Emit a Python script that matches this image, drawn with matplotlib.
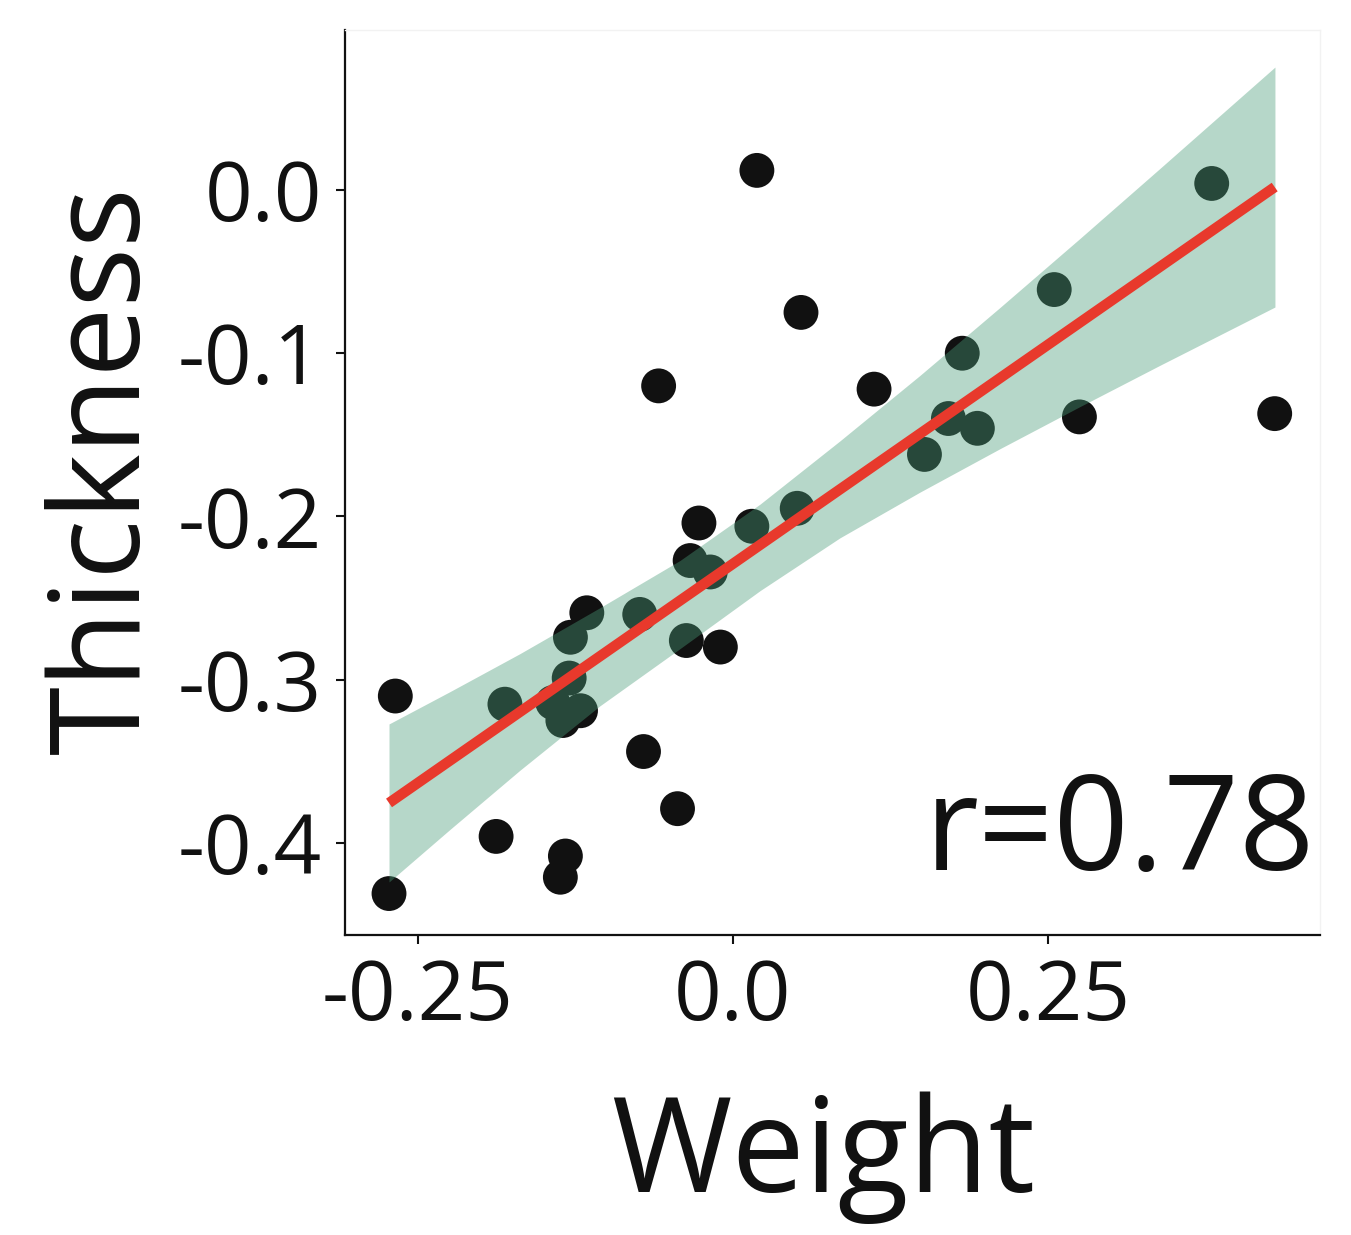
import matplotlib.pyplot as plt
import numpy as np

# scatter points
weight = [-0.268, -0.273, -0.181, -0.188, -0.133, -0.137, -0.143, -0.135, -0.121,
          -0.130, -0.129, -0.116, -0.074, -0.071, -0.044, -0.059, -0.037, -0.034,
          -0.027, -0.018, -0.010, 0.015, 0.019, 0.051, 0.054, 0.112, 0.152, 0.171,
          0.182, 0.194, 0.255, 0.275, 0.380, 0.430]
thickness = [-0.310, -0.431, -0.315, -0.396, -0.408, -0.421, -0.314, -0.325, -0.319,
             -0.299, -0.274, -0.259, -0.260, -0.344, -0.379, -0.120, -0.276, -0.227,
             -0.204, -0.234, -0.280, -0.206, 0.012, -0.195, -0.075, -0.122, -0.162,
             -0.140, -0.100, -0.146, -0.061, -0.139, 0.004, -0.137]

# fitted line and confidence band (edges read along the band)
fit_x = [-0.273, 0.430]
fit_y = [-0.3755, 0.0018]
band_x = [-0.2730, -0.2246, -0.1690, -0.1056, -0.0421, 0.0214, 0.0849, 0.1484,
          0.2119, 0.2754, 0.3389, 0.4302]
band_hi = [-0.3271, -0.3073, -0.2840, -0.2559, -0.2270, -0.1925, -0.1537, -0.1136,
           -0.0720, -0.0297, 0.0132, 0.0753]
band_lo = [-0.4239, -0.3917, -0.3554, -0.3160, -0.2810, -0.2455, -0.2131, -0.1851,
           -0.1585, -0.1327, -0.1074, -0.0717]

xticks = [-0.25, 0.0, 0.25]
xtick_labels = ["-0.25", "0.0", "0.25"]
yticks = [0.0, -0.1, -0.2, -0.3, -0.4]
ytick_labels = ["0.0", "-0.1", "-0.2", "-0.3", "-0.4"]

plt.rcParams['font.family'] = ['Open Sans', 'DejaVu Sans']

fig = plt.figure(figsize=(13.51, 12.35), dpi=100)
ax = fig.add_axes([0.2554, 0.2429, 0.977 - 0.2554, 0.9757 - 0.2429])

ax.scatter(weight, thickness, s=630, color='#111111', edgecolors='none', zorder=2)
ax.fill_between(band_x, band_lo, band_hi, color='#4a9c78', alpha=0.4, linewidth=0, zorder=3)
ax.plot(fit_x, fit_y, color='#e8392c', linewidth=7.5, solid_capstyle='butt', zorder=4)

ax.set_xlim(-0.3079, 0.4659)
ax.set_ylim(-0.4564, 0.0980)
ax.set_xticks(xticks)
ax.set_xticklabels(xtick_labels)
ax.set_yticks(yticks)
ax.set_yticklabels(ytick_labels)
ax.tick_params(labelsize=60, length=6.5, width=1.5, pad=10, colors='#111111')

for side in ['left', 'bottom']:
    ax.spines[side].set_linewidth(1.6)
    ax.spines[side].set_color('#111111')
for side in ['top', 'right']:
    ax.spines[side].set_linewidth(1.0)
    ax.spines[side].set_color('#f2f2f2')

fig.text(823 / 1351, 1 - 1192 / 1235, "Weight", fontsize=94, ha='center', va='baseline', color='#111111')
fig.text(106 / 1351, 1 - 470 / 1235, "Thickness", fontsize=90, ha='center', va='center',
         rotation=90, color='#111111')
fig.text(1315 / 1351, 1 - 870 / 1235, "r=0.78", fontsize=95, ha='right', va='baseline', color='#111111')

fig.savefig('out.png', dpi=100, facecolor='white')
